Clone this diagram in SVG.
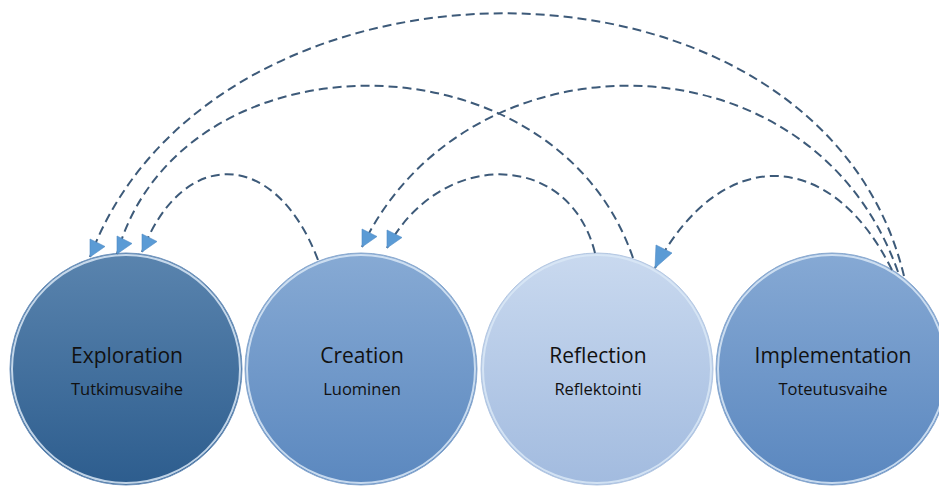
<svg xmlns="http://www.w3.org/2000/svg" width="939" height="486" viewBox="0 0 939 486">
<defs>
<style>
.conn{fill:none;stroke:#3d5a79;stroke-width:2;stroke-dasharray:9 5;marker-end:url(#ah)}
.conn.big{marker-end:url(#ahL)}
.hl{fill:none;stroke:#d9e7f6;stroke-width:2;stroke-opacity:0.85}
.t1{font-family:"Open Sans","Liberation Sans",sans-serif;font-size:21px;fill:#111;text-anchor:middle}
.t2{font-family:"Open Sans","Liberation Sans",sans-serif;font-size:16.5px;fill:#111;text-anchor:middle}
.ahp{fill:#5b9bd5;stroke:#4f8cc6;stroke-width:0.6}
</style>
<marker id="ah" markerUnits="userSpaceOnUse" markerWidth="18" markerHeight="20" refX="0" refY="18" orient="0" overflow="visible">
<path class="ahp" d="M0,18 L0,0 L15,7.5 Z"/>
</marker>
<marker id="ahL" markerUnits="userSpaceOnUse" markerWidth="20" markerHeight="25" refX="0" refY="23" orient="0" overflow="visible">
<path class="ahp" d="M0,23 L1,0 L17,8 Z"/>
</marker>
<linearGradient id="gExp" x1="0" y1="0" x2="0" y2="1">
<stop offset="0" stop-color="#5a84ae"/><stop offset="1" stop-color="#2d5d8e"/>
</linearGradient>
<linearGradient id="gCre" x1="0" y1="0" x2="0" y2="1">
<stop offset="0" stop-color="#87aad4"/><stop offset="1" stop-color="#5b88bf"/>
</linearGradient>
<linearGradient id="gRef" x1="0" y1="0" x2="0" y2="1">
<stop offset="0" stop-color="#c9d9ef"/><stop offset="1" stop-color="#a2bbdf"/>
</linearGradient>
<linearGradient id="gImp" x1="0" y1="0" x2="0" y2="1">
<stop offset="0" stop-color="#86a9d4"/><stop offset="1" stop-color="#5a87bf"/>
</linearGradient>
</defs>
<rect width="939" height="486" fill="#ffffff"/>
<g id="exploration">
<circle cx="126" cy="369" r="116" fill="url(#gExp)" stroke="#6f93bd" stroke-width="1"/>
<circle cx="126" cy="369" r="114" class="hl" stroke="#a9c7e8"/>
<text x="127" y="363" class="t1">Exploration</text>
<text x="127" y="395" class="t2">Tutkimusvaihe</text>
</g>
<g id="creation">
<circle cx="361" cy="369" r="116" fill="url(#gCre)" stroke="#8aa9cf" stroke-width="1"/>
<circle cx="361" cy="369" r="114" class="hl"/>
<text x="362" y="363" class="t1">Creation</text>
<text x="362" y="395" class="t2">Luominen</text>
</g>
<g id="reflection">
<circle cx="597" cy="369" r="116" fill="url(#gRef)" stroke="#b3c7e2" stroke-width="1"/>
<circle cx="597" cy="369" r="114" class="hl" stroke="#eef4fb"/>
<text x="598" y="363" class="t1">Reflection</text>
<text x="598" y="395" class="t2">Reflektointi</text>
</g>
<g id="implementation">
<circle cx="832" cy="369" r="116" fill="url(#gImp)" stroke="#8aa9cf" stroke-width="1"/>
<circle cx="832" cy="369" r="114" class="hl"/>
<text x="833" y="363" class="t1">Implementation</text>
<text x="833" y="395" class="t2">Toteutusvaihe</text>
</g>
<g id="connectors">
<path class="conn" d="M904,276 C820,-71 213,-71 90,257"/>
<path class="conn" d="M633,258 C555,29 180,29 117,254"/>
<path class="conn" d="M318,260 C275,147 182,147 142,252"/>
<path class="conn" d="M898,272 C812,28 466,28 362,247"/>
<path class="conn" d="M595,253 C569,149 440,149 387,248"/>
<path class="conn big" d="M892,270 C830,145 720,145 655,268"/>
</g>
</svg>
